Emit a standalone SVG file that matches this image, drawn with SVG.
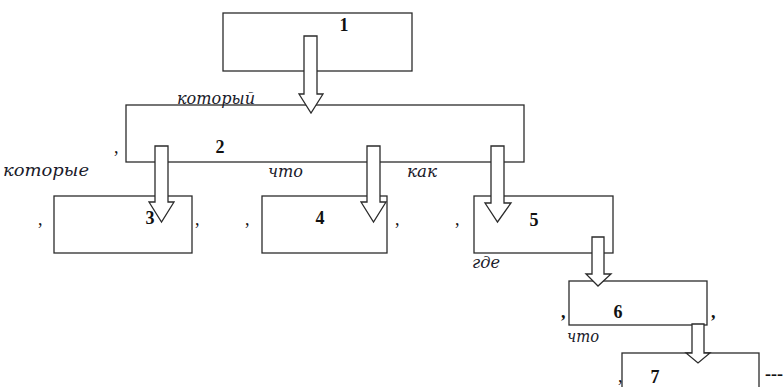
<svg xmlns="http://www.w3.org/2000/svg" width="784" height="387" viewBox="0 0 784 387">
<defs>
<style>
.box{fill:none;stroke:#2b2b2b;stroke-width:1.3}
.arr{fill:#fff;stroke:#2b2b2b;stroke-width:1.3;stroke-linejoin:miter}
.num{font-family:"Liberation Serif","Times New Roman",serif;font-weight:bold;font-size:18px;fill:#111;text-anchor:middle}
.lbl{font-family:"DejaVu Serif","Liberation Serif",serif;font-style:italic;font-size:16px;fill:#1a1a2a}
.cm{font-family:"Liberation Serif","Times New Roman",serif;font-size:18px;fill:#111}
</style>
</defs>
<rect width="784" height="387" fill="#fff"/>
<g id="node1">
<rect class="box" x="223" y="13" width="189" height="58"/>
<text class="num" x="344" y="31">1</text>
</g>
<g id="node2">
<rect class="box" x="126" y="105" width="398" height="57"/>
<text class="num" x="220" y="153">2</text>
<text class="cm" x="114" y="153">,</text>
</g>
<g id="node3">
<rect class="box" x="54" y="196" width="138" height="57"/>
<text class="num" x="150" y="224">3</text>
<text class="cm" x="38" y="225">,</text>
<text class="cm" x="195" y="225">,</text>
</g>
<g id="node4">
<rect class="box" x="262" y="196" width="125" height="57"/>
<text class="num" x="320" y="224">4</text>
<text class="cm" x="245" y="225">,</text>
<text class="cm" x="395" y="225">,</text>
</g>
<g id="node5">
<rect class="box" x="474" y="196" width="139" height="57"/>
<text class="num" x="534" y="226">5</text>
<text class="cm" x="455" y="225">,</text>
</g>
<g id="node6">
<rect class="box" x="569" y="281" width="138" height="44"/>
<text class="num" x="618" y="318">6</text>
<text class="cm" x="561" y="318" font-weight="bold">,</text>
<text class="cm" x="711" y="318" font-weight="bold">,</text>
</g>
<g id="node7">
<rect class="box" x="622" y="353" width="137" height="40"/>
<text class="num" x="655" y="383">7</text>
<text class="cm" x="618" y="382">,</text>
<text class="cm" x="765" y="380" font-weight="bold">---</text>
</g>
<g id="connectors">
<polygon class="arr" points="304,36 317,36 317,94 323,94 311,113 299,94 304,94"/>
<polygon class="arr" points="155,146 168,146 168,202 174,202 161.5,222 149,202 155,202"/>
<polygon class="arr" points="367,146 380,146 380,202 386,202 373.5,222 361,202 367,202"/>
<polygon class="arr" points="491,146 504,146 504,203 511,203 497.5,222 485,203 491,203"/>
<polygon class="arr" points="592,237 604,237 604,274 611,274 598,286 586,274 592,274"/>
<polygon class="arr" points="692,324 704,324 704,353 710,353 698,363 686,353 692,353"/>
</g>
<g id="labels">
<text class="lbl" x="177" y="104" textLength="78" lengthAdjust="spacingAndGlyphs">который</text>
<text class="lbl" x="3" y="176" textLength="86" lengthAdjust="spacingAndGlyphs">которые</text>
<text class="lbl" x="268" y="177" textLength="35" lengthAdjust="spacingAndGlyphs">что</text>
<text class="lbl" x="407" y="177" textLength="30" lengthAdjust="spacingAndGlyphs">как</text>
<text class="lbl" x="472" y="268" textLength="28" lengthAdjust="spacingAndGlyphs">где</text>
<text class="lbl" x="567" y="342" textLength="32" lengthAdjust="spacingAndGlyphs">что</text>
</g>
</svg>
